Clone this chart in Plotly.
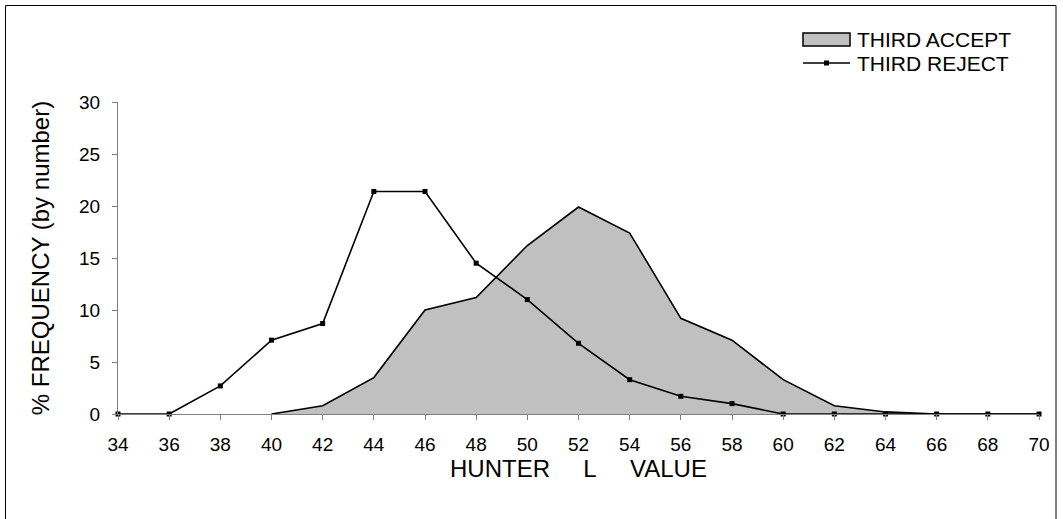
import plotly.graph_objects as go

x_vals = [34, 36, 38, 40, 42, 44, 46, 48, 50, 52, 54, 56, 58, 60, 62, 64, 66, 68, 70]
reject = [0, 0, 2.7, 7.1, 8.7, 21.4, 21.4, 14.5, 11.0, 6.8, 3.3, 1.7, 1.0, 0, 0, 0, 0, 0, 0]
accept_x = [40, 42, 44, 46, 48, 50, 52, 54, 56, 58, 60, 62, 64, 66, 68, 70]
accept = [0, 0.8, 3.5, 10.0, 11.2, 16.2, 19.9, 17.4, 9.2, 7.1, 3.3, 0.8, 0.2, 0, 0, 0]
x_ticks = list(range(34, 71, 2))
y_ticks = [0, 5, 10, 15, 20, 25, 30]
series_names = ["THIRD ACCEPT", "THIRD REJECT"]

FONT = "Liberation Sans, Arial, sans-serif"
W, H = 1063, 519
L, R, T, B = 118, 24, 102, 105
PW, PH = W - L - R, H - T - B


def px_x(p):
    return (p - L) / PW


def px_y(p):
    return (H - B - p) / PH


fig = go.Figure()
fig.add_trace(go.Scatter(
    x=accept_x, y=accept, name=series_names[0], mode="lines",
    fill="tozeroy", fillcolor="#c0c0c0",
    line=dict(color="black", width=1.6), showlegend=False,
))
fig.add_trace(go.Scatter(
    x=x_vals, y=reject, name=series_names[1], mode="lines+markers",
    line=dict(color="black", width=1.6),
    marker=dict(symbol="square", size=5, color="black"),
    cliponaxis=False, showlegend=False,
))

# legend (drawn manually to match the boxed swatch style)
acc_y, rej_y = 39, 63
shapes = [
    dict(type="rect", xref="paper", yref="paper",
         x0=px_x(5.5), x1=px_x(1056), y0=px_y(521), y1=px_y(5.5),
         line=dict(color="black", width=1), fillcolor="rgba(0,0,0,0)", layer="below"),
    dict(type="rect", xref="paper", yref="paper",
         x0=px_x(803), x1=px_x(850), y0=px_y(acc_y + 7), y1=px_y(acc_y - 6),
         line=dict(color="black", width=1.5), fillcolor="#c0c0c0"),
    dict(type="line", xref="paper", yref="paper",
         x0=px_x(803), x1=px_x(850), y0=px_y(rej_y), y1=px_y(rej_y),
         line=dict(color="black", width=1.5)),
    dict(type="rect", xref="paper", yref="paper",
         x0=px_x(824), x1=px_x(829), y0=px_y(rej_y + 2.5), y1=px_y(rej_y - 2.5),
         line=dict(color="black", width=0), fillcolor="black"),
]
annotations = [
    dict(text=series_names[0], xref="paper", yref="paper", x=px_x(855), y=px_y(acc_y),
         xanchor="left", yanchor="middle", showarrow=False, font=dict(size=21)),
    dict(text=series_names[1], xref="paper", yref="paper", x=px_x(855), y=px_y(rej_y),
         xanchor="left", yanchor="middle", showarrow=False, font=dict(size=21)),
]

fig.update_layout(
    width=W, height=H,
    margin=dict(l=L, r=R, t=T, b=B),
    paper_bgcolor="white", plot_bgcolor="white",
    font=dict(family=FONT, size=19, color="black"),
    showlegend=False,
    xaxis=dict(range=[34, 70], tickmode="array", tickvals=x_ticks,
               ticktext=[str(v) for v in x_ticks],
               showgrid=False, zeroline=False, showline=True,
               linecolor="#808080", linewidth=1,
               ticks="outside", ticklen=5, tickcolor="#808080",
               tickfont=dict(size=19), ticklabelstandoff=8,
               title=dict(text="HUNTER\u00a0\u00a0\u00a0\u00a0\u00a0L\u00a0\u00a0\u00a0\u00a0\u00a0VALUE",
                          font=dict(size=24), standoff=6)),
    yaxis=dict(range=[0, 30], tickmode="array", tickvals=y_ticks,
               showgrid=False, zeroline=False, showline=True,
               linecolor="#808080", linewidth=1,
               ticks="outside", ticklen=5, tickcolor="#808080",
               tickfont=dict(size=19), ticklabelstandoff=8,
               title=dict(text="% FREQUENCY (by number)", font=dict(size=24), standoff=22)),
    shapes=shapes,
    annotations=annotations,
)

fig.write_html("out.html", config={"displayModeBar": False},
               post_script="document.body.style.margin='0px';document.body.style.overflow='hidden';")
